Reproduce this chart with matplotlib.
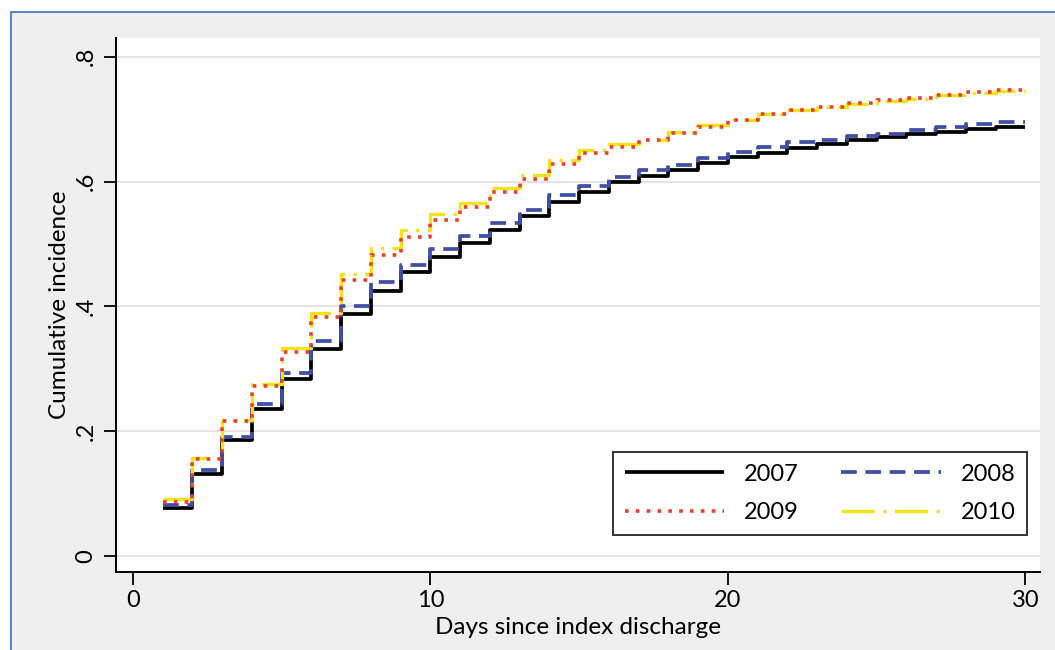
import matplotlib
matplotlib.use('Agg')
import matplotlib.pyplot as plt
from matplotlib.patches import Rectangle

plt.rcParams['font.family'] = ['Lato', 'DejaVu Sans']

# day index: value holds on [day, day+1), last value extends to day 30
days = list(range(1, 31))

inc_2007 = [0.077, 0.131, 0.186, 0.235, 0.283, 0.332, 0.388, 0.424, 0.455, 0.479,
            0.502, 0.523, 0.545, 0.567, 0.584, 0.599, 0.609, 0.619, 0.629, 0.639,
            0.646, 0.654, 0.660, 0.667, 0.671, 0.677, 0.680, 0.685, 0.688]
inc_2008 = [0.082, 0.138, 0.191, 0.244, 0.293, 0.344, 0.401, 0.439, 0.466, 0.492,
            0.512, 0.533, 0.555, 0.578, 0.593, 0.607, 0.618, 0.627, 0.637, 0.647,
            0.655, 0.664, 0.667, 0.673, 0.677, 0.683, 0.687, 0.692, 0.696]
inc_2009 = [0.087, 0.155, 0.217, 0.273, 0.327, 0.383, 0.442, 0.482, 0.511, 0.538,
            0.560, 0.584, 0.604, 0.628, 0.645, 0.656, 0.667, 0.678, 0.687, 0.698,
            0.708, 0.714, 0.720, 0.726, 0.730, 0.734, 0.739, 0.743, 0.747]
inc_2010 = [0.091, 0.157, 0.218, 0.276, 0.334, 0.389, 0.452, 0.493, 0.523, 0.548,
            0.566, 0.590, 0.611, 0.635, 0.651, 0.660, 0.667, 0.679, 0.690, 0.699,
            0.709, 0.714, 0.719, 0.724, 0.729, 0.733, 0.738, 0.742, 0.745]

x_ticks = [0, 10, 20, 30]
y_ticks = [0, 0.2, 0.4, 0.6, 0.8]
y_tick_labels = ['0', '.2', '.4', '.6', '.8']

fig = plt.figure(figsize=(10.55, 6.5), dpi=100)
fig.patch.set_facecolor('white')
fig.add_artist(Rectangle((0.0104, -0.1), 1.2, 0.9815 + 0.1, transform=fig.transFigure,
                         facecolor='#eeefee', edgecolor='#3b6fc6', linewidth=1.2, zorder=0))

ax = fig.add_axes([0.110, 0.12, 0.876, 0.8215])
ax.set_facecolor('white')
for y in y_ticks:
    ax.axhline(y, color='#e6e0e0', linewidth=1.3, zorder=1)


def steps(vals):
    return vals + [vals[-1]]


l07, = ax.step(days, steps(inc_2007), where='post', color='black', linewidth=2.7, zorder=3,
               solid_capstyle='butt')
l08, = ax.step(days, steps(inc_2008), where='post', color='#3f4ea6', linewidth=2.7, zorder=4,
               linestyle=(0, (4.2, 2.3)), dash_capstyle='butt')
l10, = ax.step(days, steps(inc_2010), where='post', color='#f4e31a', linewidth=2.4, zorder=5,
               linestyle=(0, (10, 2.5, 1, 2.5)), dash_capstyle='butt')
l09, = ax.step(days, steps(inc_2009), where='post', color='#e8402a', linewidth=2.6, zorder=6,
               linestyle=(0, (1, 2)), dash_capstyle='butt')

ax.set_xlim(-0.57, 30.5)
ax.set_ylim(-0.0256, 0.83)
ax.set_xticks(x_ticks)
ax.set_yticks(y_ticks)
ax.set_yticklabels(y_tick_labels, rotation=90, va='center')
ax.tick_params(axis='both', labelsize=17, length=9, width=1.3, color='black')
ax.tick_params(axis='y', pad=5)
ax.tick_params(axis='x', pad=4)
for s in ['top', 'right']:
    ax.spines[s].set_visible(False)
for s in ['left', 'bottom']:
    ax.spines[s].set_linewidth(1.4)

ax.set_xlabel('Days since index discharge', fontsize=17.5, labelpad=4)
ax.set_ylabel('Cumulative incidence', fontsize=17.5, labelpad=4)

leg = ax.legend([l07, l09, l08, l10], ['2007', '2009', '2008', '2010'], ncol=2,
                loc='lower right', bbox_to_anchor=(0.986, 0.069), borderaxespad=0,
                fontsize=17, frameon=True, fancybox=False, handlelength=4.2,
                handletextpad=0.85, columnspacing=1.8, labelspacing=0.75, borderpad=0.5)
leg.get_frame().set_edgecolor('black')
leg.get_frame().set_linewidth(1.4)

fig.savefig('out.png', dpi=100)
